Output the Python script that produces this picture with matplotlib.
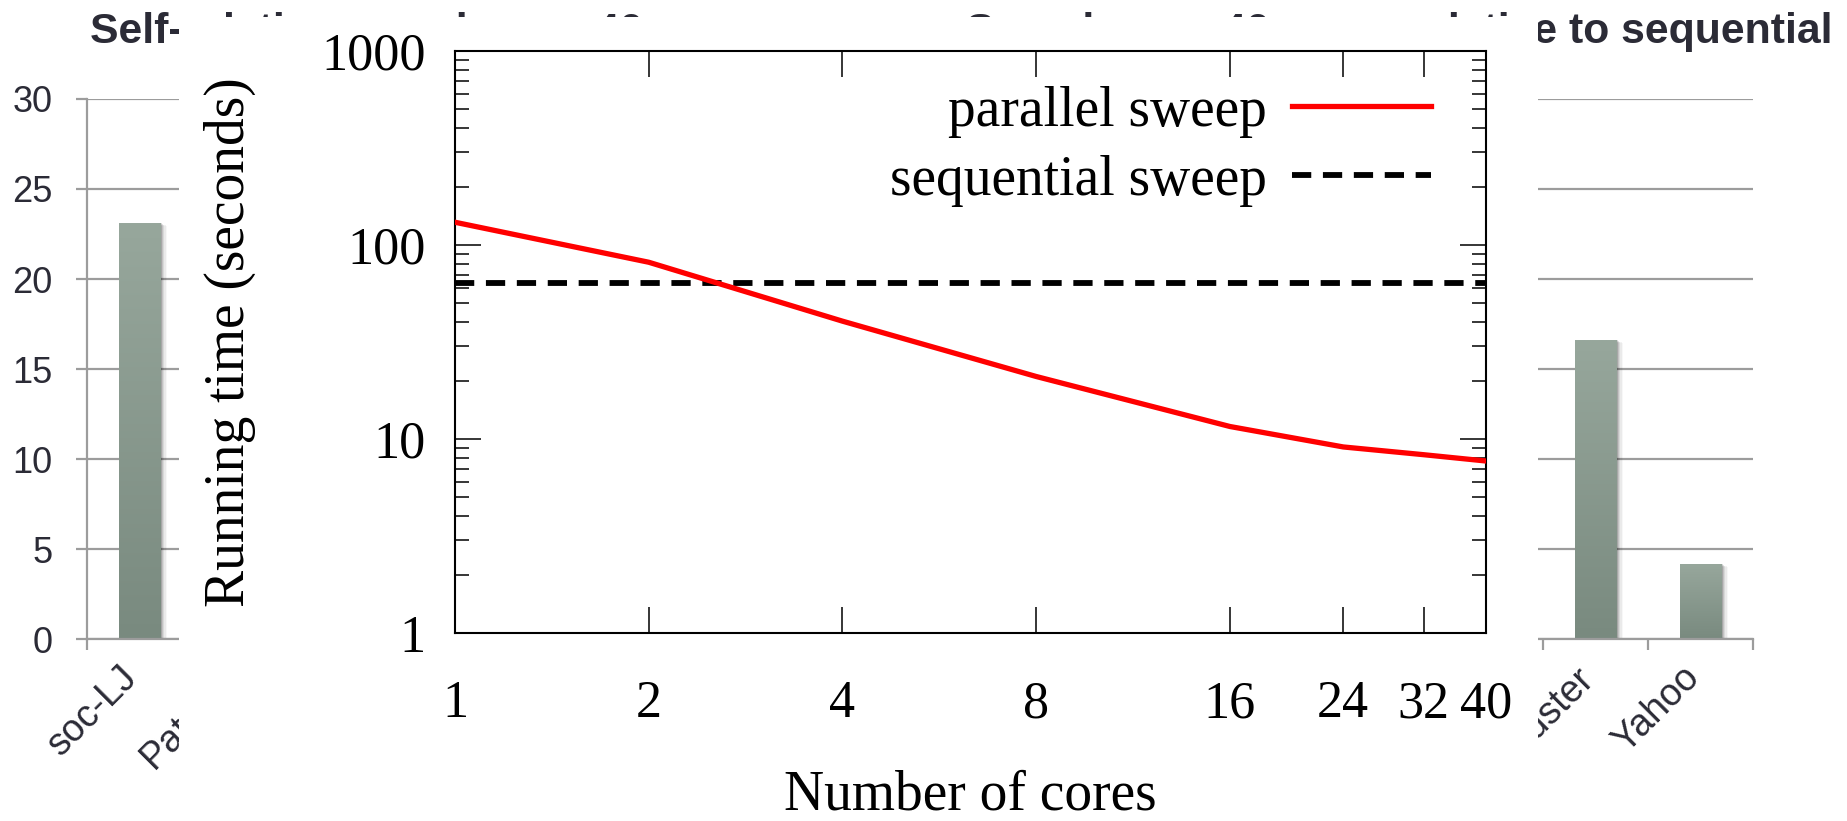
import numpy as np
import matplotlib.pyplot as plt
from matplotlib.patches import Rectangle
from matplotlib.colors import LinearSegmentedColormap
from matplotlib.ticker import FixedLocator, NullFormatter, NullLocator, LogLocator

W, H = 1847, 821

# speedup bars (only the readable ones are filled in)
graphs = ['soc-LJ', 'Patents', 'com-LJ', 'Orkut', 'Twitter', 'Friendster', 'Yahoo']
self_speedup = [23.1, np.nan, np.nan, np.nan, np.nan, np.nan, np.nan]
seq_speedup = [np.nan, np.nan, np.nan, np.nan, np.nan, 16.6, 4.15]

# sweep running times
cores = [1, 2, 4, 8, 16, 24, 32, 40]
parallel_sweep = [131, 81.5, 40.5, 21, 11.6, 9.1, 8.3, 7.7]
sequential_sweep = 64

bar_cmap = LinearSegmentedColormap.from_list('bar', ['#798a7f', '#97a79c'])
grid_gray = '#9c9c9c'
txt_dark = '#2b2b36'


def speedup_axes(fig, left_px, values):
    ax = fig.add_axes([left_px / W, 1 - 639 / H, 735 / W, 540 / H])
    ax.set_zorder(0)
    n = len(graphs)
    bw = 0.4
    grad = np.linspace(0, 1, 256).reshape(-1, 1)
    for i, v in enumerate(values):
        if np.isnan(v):
            continue
        x0 = i + 0.5 - bw / 2
        # soft drop shadow on the right
        for k, a in enumerate([0.14, 0.10, 0.07, 0.05, 0.03]):
            off = 0.012 * (k + 1)
            ax.add_patch(Rectangle((x0 + off, 0), bw, v - 0.04 * k, facecolor='black',
                                   alpha=a, lw=0, zorder=1.5))
        bar = Rectangle((x0, 0), bw, v, facecolor='none', lw=0, zorder=2)
        ax.add_patch(bar)
        im = ax.imshow(grad, extent=(x0, x0 + bw, 0, v), aspect='auto', cmap=bar_cmap,
                       origin='lower', zorder=2)
        im.set_clip_path(bar)
    ax.set_xlim(0, n)
    ax.set_ylim(0, 30)
    ax.set_yticks(range(0, 31, 5))
    ax.yaxis.grid(True, color=grid_gray, lw=1.6)
    ax.set_axisbelow(True)
    for s in ['top', 'right']:
        ax.spines[s].set_visible(False)
    for s in ['left', 'bottom']:
        ax.spines[s].set_color(grid_gray)
        ax.spines[s].set_linewidth(1.6)
    ax.xaxis.set_major_locator(FixedLocator(range(n + 1)))
    ax.xaxis.set_major_formatter(NullFormatter())
    ax.xaxis.set_minor_locator(FixedLocator([i + 0.5 for i in range(n)]))
    ax.set_xticklabels(graphs, minor=True, rotation=45, ha='right', va='baseline',
                       rotation_mode='anchor')
    ax.tick_params(axis='x', which='major', length=8, width=1.6, color=grid_gray)
    ax.tick_params(axis='x', which='minor', length=0, pad=29, labelsize=27,
                   labelcolor=txt_dark)
    ax.tick_params(axis='y', length=8, width=1.6, color=grid_gray, pad=17,
                   labelsize=26, labelcolor=txt_dark)
    for t in ax.get_xticklabels(minor=True) + ax.get_yticklabels():
        t.set_fontfamily('Liberation Sans')
    return ax


fig = plt.figure(figsize=(W / 100, H / 100), dpi=100)

speedup_axes(fig, 87, self_speedup)
speedup_axes(fig, 1018, seq_speedup)

fig.text(90 / W, 1 - 43 / H, 'Self-relative speedup on 40 cores', ha='left', va='baseline',
         fontsize=30.8, fontweight='bold', color=txt_dark, family='Liberation Sans', zorder=3)
fig.text(1832 / W, 1 - 43 / H, 'Speedup on 40 cores relative to sequential', ha='right',
         va='baseline', fontsize=30.8, fontweight='bold', color=txt_dark,
         family='Liberation Sans', zorder=3)

# white panel for the running time plot
fig.add_artist(Rectangle((179 / W, 0), (1538 - 179) / W, 1 - 17 / H, transform=fig.transFigure,
                         facecolor='white', edgecolor='none', zorder=5))

serif = 'Liberation Serif'
ax = fig.add_axes([455 / W, 1 - 633 / H, 1031 / W, 582 / H])
ax.set_zorder(10)
ax.plot(cores, parallel_sweep, color='#ff0000', lw=3.8, label='parallel sweep', zorder=3)
ax.axhline(sequential_sweep, color='black', lw=4.2, dashes=(3.3, 2.0),
           label='sequential sweep', zorder=2)

ax.set_xscale('log', base=2)
ax.set_yscale('log')
ax.set_xlim(1, 40)
ax.set_ylim(1, 1000)
ax.xaxis.set_major_locator(FixedLocator(cores))
ax.set_xticklabels([str(c) for c in cores])
ax.xaxis.set_minor_locator(NullLocator())
ax.yaxis.set_major_locator(FixedLocator([1, 10, 100, 1000]))
ax.set_yticklabels(['1', '10', '100', '1000'])
ax.yaxis.set_minor_locator(LogLocator(base=10, subs=np.arange(2, 10)))
ax.yaxis.set_minor_formatter(NullFormatter())

ax.tick_params(which='both', direction='in', top=True, right=True, width=1.1, color='black')
ax.tick_params(which='major', length=19)
ax.tick_params(which='minor', length=10)
ax.tick_params(axis='x', pad=34, labelsize=37.5)
ax.tick_params(axis='y', pad=21, labelsize=37.5)
for t in ax.get_xticklabels() + ax.get_yticklabels():
    t.set_fontfamily(serif)
for s in ax.spines.values():
    s.set_linewidth(1.5)

ax.set_xlabel('Number of cores', fontsize=40, family=serif, va='baseline')
ax.xaxis.set_label_coords(0.5, -0.304)
ax.set_ylabel('Running time (seconds)', fontsize=40, family=serif, va='center')
ax.yaxis.set_label_coords(-0.218, 0.5)

ax.legend(loc='upper right', bbox_to_anchor=(0.9467, 0.94), frameon=False, markerfirst=False,
          borderpad=0, borderaxespad=0, handlelength=2.5, handletextpad=0.45,
          labelspacing=0.3, prop={'family': serif, 'size': 40})

fig.savefig('out.png', dpi=100)
